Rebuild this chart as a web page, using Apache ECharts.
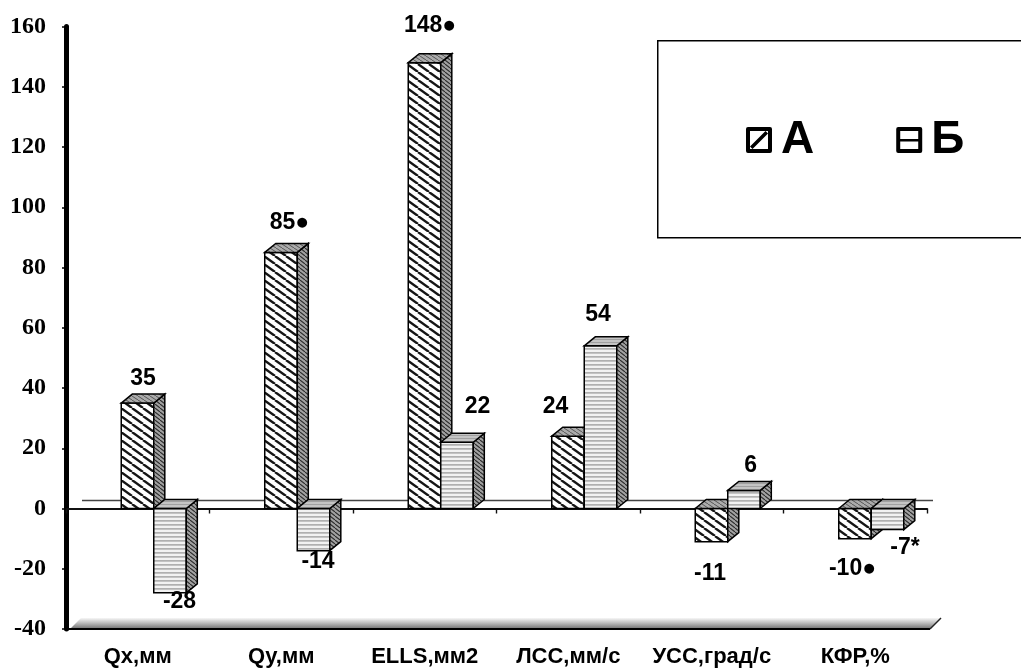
<!DOCTYPE html>
<html>
<head>
<meta charset="utf-8">
<script src="https://cdn.jsdelivr.net/npm/echarts@6/dist/echarts.min.js"></script>
<style>html,body{margin:0;padding:0;background:#fff}#c{width:1021px;height:668px}</style>
</head>
<body>
<div id="c"></div>
<script>
// ---- data ----
const categories = ['Qx,мм', 'Qy,мм', 'ELLS,мм2', 'ЛСС,мм/с', 'УСС,град/с', 'КФР,%'];
const seriesNames = ['А', 'Б'];
const valuesA = [35, 85, 148, 24, -11, -10];
const valuesB = [-28, -14, 22, 54, 6, -7];
const labelsA = ['35', '85●', '148●', '24', '-11', '-10●'];
const labelsB = ['-28', '-14', '22', '54', '6', '-7*'];
const yMin = -40, yMax = 160, yStep = 20;

// ---- style: label nudges (px) ----
const nudgeA = [[0, 0], [3, -5], [0, -12], [-18, -5], [-7, 19], [-8, 17]];
const nudgeB = [[4, -5], [-1, -3], [15, -11], [-8, -7], [1, 0], [12, 5]];

function makePattern(w, h, draw) {
  const c = document.createElement('canvas');
  c.width = w; c.height = h;
  const g = c.getContext('2d');
  draw(g, w, h);
  return { image: c, repeat: 'repeat' };
}
function diag(g, w, h, color, lw) {
  g.strokeStyle = color; g.lineWidth = lw;
  for (let k = -1; k <= 1; k++) {
    g.beginPath(); g.moveTo(k * w, 0); g.lineTo(k * w + w, h); g.stroke();
  }
}
const patAFront = makePattern(11, 8, (g, w, h) => { g.fillStyle = '#fff'; g.fillRect(0, 0, w, h); diag(g, w, h, '#151515', 2.3); });
const patSide = makePattern(5, 4, (g, w, h) => { g.fillStyle = '#a2a2a2'; g.fillRect(0, 0, w, h); diag(g, w, h, '#2a2a2a', 1.1); });
const patTopA = makePattern(6, 4, (g, w, h) => { g.fillStyle = '#ababab'; g.fillRect(0, 0, w, h); diag(g, w, h, '#555', 1); });
const patBFront = makePattern(2, 4, (g, w, h) => { g.fillStyle = '#f2f2f2'; g.fillRect(0, 0, w, h); g.fillStyle = '#b0b0b0'; g.fillRect(0, 0, w, 1.7); });
const patTopB = makePattern(2, 3, (g, w, h) => { g.fillStyle = '#c4c4c4'; g.fillRect(0, 0, w, h); g.fillStyle = '#a0a0a0'; g.fillRect(0, 0, w, 1); });

const FONT = 'Liberation Sans, Arial, sans-serif';

function barRenderer(which) {
  const labels = which === 0 ? labelsA : labelsB;
  const nudges = which === 0 ? nudgeA : nudgeB;
  return function (params, api) {
    const i = api.value(0), v = api.value(1);
    const p0 = api.coord([i, 0]);
    const pv = api.coord([i, v]);
    const bw = api.size([1, 0])[0];
    const w = bw * 0.2265;
    const c = p0[0] + bw * 0.1115;
    const left = which === 0 ? c - w : c;
    const right = left + w;
    const dx = bw * 0.077, dy = 9;
    const yTop = Math.min(p0[1], pv[1]);
    const yBot = Math.max(p0[1], pv[1]);
    const stroke = { stroke: '#000', lineWidth: 1.5 };
    const front = { type: 'rect', shape: { x: left, y: yTop, width: w, height: yBot - yTop },
      style: Object.assign({ fill: which === 0 ? patAFront : patBFront }, stroke) };
    const side = { type: 'polygon', shape: { points: [[right, yTop], [right + dx, yTop - dy], [right + dx, yBot - dy], [right, yBot]] },
      style: Object.assign({ fill: patSide }, stroke) };
    const top = { type: 'polygon', shape: { points: [[left, yTop], [left + dx, yTop - dy], [right + dx, yTop - dy], [right, yTop]] },
      style: Object.assign({ fill: which === 0 ? patTopA : patTopB }, stroke) };
    const nd = nudges[i];
    const lx = left + w / 2 + dx / 2 + nd[0];
    const pos = v >= 0;
    const ly = (pos ? yTop - dy - 4 : yBot + 2) + nd[1];
    const text = { type: 'text', x: lx, y: ly, z2: 100,
      style: { text: labels[i], fill: '#000', fontSize: 23, fontWeight: 'bold', fontFamily: FONT,
        align: 'center', verticalAlign: pos ? 'bottom' : 'top' } };
    return { type: 'group', children: [front, side, top, text] };
  };
}

function decorRenderer(params, api) {
  const cs = params.coordSys;
  const y0 = api.coord([0, 0])[1];
  const yb = cs.y + cs.height;
  const x0 = cs.x, x1 = cs.x + cs.width;
  return { type: 'group', children: [
    { type: 'line', shape: { x1: x0 + 16, y1: y0 - 8, x2: x1 + 6, y2: y0 - 8 }, style: { stroke: '#444', lineWidth: 1.6 } },
    { type: 'polygon', shape: { points: [[x0 + 4, yb], [x0 + 15, yb - 11], [x1 + 14, yb - 11], [x1 + 3, yb]] },
      style: { fill: { type: 'linear', x: 0, y: 0, x2: 0, y2: 1, colorStops: [{ offset: 0, color: '#f6f6f6' }, { offset: 0.4, color: '#c4c4c4' }, { offset: 1, color: '#707070' }] } } },
    { type: 'line', shape: { x1: x0, y1: yb, x2: x1 + 3, y2: yb }, style: { stroke: '#000', lineWidth: 2.2 } },
    { type: 'line', shape: { x1: x1 + 3, y1: yb, x2: x1 + 14, y2: yb - 11 }, style: { stroke: '#222', lineWidth: 1.5 } }
  ] };
}

const iconA = 'path://M2,0H24Q26,0,26,2V24Q26,26,24,26H2Q0,26,0,24V2Q0,0,2,0ZM4,4V22H22V4ZM4,19.5L19.5,4L22,6.5L6.5,22Z';
const iconB = 'path://M2,0H24Q26,0,26,2V24Q26,26,24,26H2Q0,26,0,24V2Q0,0,2,0ZM4,4V22H22V4ZM4,12H22V14.5H4Z';

const chart = echarts.init(document.getElementById('c'), null, { renderer: 'canvas' });
chart.setOption({
  animation: false,
  backgroundColor: '#fff',
  graphic: [{ type: 'rect', left: 657, top: 40, z: 0,
    shape: { width: 380, height: 197 }, style: { fill: '#fff', stroke: '#000', lineWidth: 1.5 } }],
  legend: {
    z: 10, selectedMode: false, left: 741, top: 112, itemWidth: 26, itemHeight: 26, itemGap: 82,
    data: [{ name: seriesNames[0], icon: iconA, itemStyle: { color: '#000', borderWidth: 0 } },
           { name: seriesNames[1], icon: iconB, itemStyle: { color: '#000', borderWidth: 0 } }],
    textStyle: { fontSize: 46, fontWeight: 'bold', fontFamily: FONT, color: '#000', padding: [0, 0, 0, 4] }
  },
  grid: { left: 66, right: 94, top: 26.5, bottom: 38, containLabel: false },
  xAxis: [
    { type: 'category', data: categories, position: 'bottom',
      axisLine: { onZero: true, lineStyle: { color: '#111', width: 2 } },
      axisTick: { show: true, interval: 0, length: 5, lineStyle: { color: '#111', width: 1.4 } },
      axisLabel: { show: false }, splitLine: { show: false } },
    { type: 'category', data: categories, position: 'bottom',
      axisLine: { show: false, onZero: false }, axisTick: { show: false },
      axisLabel: { interval: 0, margin: 17, color: '#000', fontSize: 22, fontWeight: 'bold', fontFamily: FONT } }
  ],
  yAxis: {
    type: 'value', min: yMin, max: yMax, interval: yStep,
    axisLine: { show: true, lineStyle: { color: '#000', width: 5 } },
    axisTick: { show: true, length: 4, lineStyle: { color: '#000', width: 1.5 } },
    axisLabel: { margin: 20, color: '#000', fontSize: 24, fontWeight: 'bold', fontFamily: 'Liberation Serif, Times New Roman, serif' },
    splitLine: { show: false }
  },
  series: [
    { type: 'custom', name: 'decor', silent: true, z: 1, renderItem: decorRenderer, data: [[0, 0]], encode: { x: 0, y: 1 } },
    { type: 'custom', name: seriesNames[0], z: 2, renderItem: barRenderer(0),
      data: valuesA.map((v, i) => [i, v]), encode: { x: 0, y: 1 } },
    { type: 'custom', name: seriesNames[1], z: 2, renderItem: barRenderer(1),
      data: valuesB.map((v, i) => [i, v]), encode: { x: 0, y: 1 } }
  ]
});
</script>
</body>
</html>
